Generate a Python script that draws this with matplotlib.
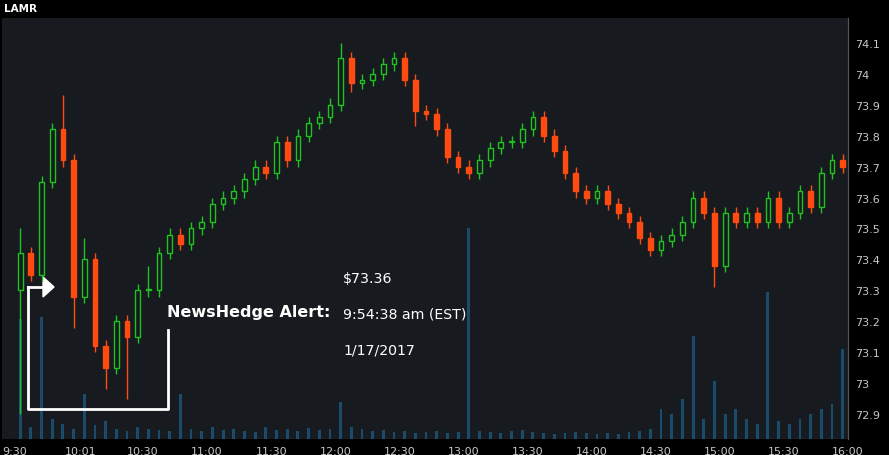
import matplotlib
matplotlib.use("Agg")
import matplotlib.pyplot as plt
import numpy as np

closes = [73.42,73.35,73.65,73.82,73.72,73.28,73.40,73.12,73.05,73.20,73.15,73.30,73.30,73.42,73.48,73.45,
          73.50,73.52,73.58,73.60,73.62,73.66,73.70,73.68,73.78,73.72,73.80,73.84,73.86,73.90,74.05,73.97,
          73.98,74.00,74.03,74.05,73.98,73.88,73.87,73.82,73.73,73.70,73.68,73.72,73.76,73.78,73.78,73.82,
          73.86,73.80,73.75,73.68,73.62,73.60,73.62,73.58,73.55,73.52,73.47,73.43,73.46,73.48,73.52,73.60,
          73.55,73.38,73.55,73.52,73.55,73.52,73.60,73.52,73.55,73.62,73.57,73.68,73.72,73.70]
first_open = 73.30
high_extra = {0: 73.50, 4: 73.93, 6: 73.47, 12: 73.38, 30: 74.10, 48: 73.88}
low_extra = {0: 72.90, 5: 73.18, 8: 72.98, 10: 72.95, 31: 73.94, 37: 73.83, 65: 73.31}
volume = [120,12,122,20,15,10,45,14,18,10,8,12,10,9,8,45,10,8,12,9,10,8,7,12,9,10,8,11,9,10,37,12,
          10,8,9,7,8,6,7,8,6,7,211,8,7,6,8,9,7,6,5,6,7,6,5,6,5,7,8,10,30,25,40,103,20,58,25,30,
          20,15,147,18,15,20,25,30,35,90]
tick_minutes = [0,31,60,90,120,150,180,210,240,270,300,330,360,390]
tick_labels = ["9:30","10:01","10:30","11:00","11:30","12:00","12:30","13:00","13:30","14:00","14:30","15:00","15:30","16:00"]
price_ticks = [72.9,73.0,73.1,73.2,73.3,73.4,73.5,73.6,73.7,73.8,73.9,74.0,74.1]

BG = "#171b1f"; GREEN = "#1fc21f"; RED = "#ff4a10"; VOL = "#1b4b6b"; TXT = "#c8c8c8"

fig = plt.figure(figsize=(8.89, 4.56), dpi=100, facecolor="black")
ax = fig.add_axes([2/889, 1-440/456, 846/889, 421/456])
vax = ax.twinx()
vax.set_ylim(0, 421)
vax.set_yticks([])
ax.set_zorder(vax.get_zorder()+1)
ax.patch.set_visible(False)
vax.patch.set_visible(True); vax.patch.set_facecolor(BG)

n = len(closes)
opens = [first_open] + closes[:-1]
for i in range(n):
    x = i*5 + 2.5
    o, c = opens[i], closes[i]
    h = high_extra.get(i, max(o, c) + 0.02)
    l = low_extra.get(i, min(o, c) - 0.02)
    col = GREEN if c >= o else RED
    ax.vlines(x, l, h, color=col, lw=1)
    if c >= o:
        ax.add_patch(plt.Rectangle((x-1.1, o), 2.2, max(c-o, 0.004), facecolor=BG, edgecolor=col, lw=1, zorder=3))
    else:
        ax.add_patch(plt.Rectangle((x-1.1, c), 2.2, o-c, facecolor=col, edgecolor=col, lw=1, zorder=3))
    vax.bar(x, volume[i], width=1.3, color=VOL)

ax.set_xlim(-6, 385)
vax.set_xlim(-6, 385)
ax.set_ylim(72.82, 74.18)
ax.yaxis.tick_right()
ax.set_yticks(price_ticks)
ax.set_yticklabels([f"{p:g}" for p in price_ticks])
ax.set_xticks(tick_minutes)
ax.set_xticklabels(tick_labels)
ax.tick_params(colors=TXT, labelsize=8, length=0, pad=5)
vax.tick_params(length=0)
for a in (ax, vax):
    for s in a.spines.values():
        s.set_visible(False)
    a.spines["right"].set_visible(True)
    a.spines["right"].set_color("#555555")

fig.text(4/889, 1-9/456, "LAMR", color="white", fontsize=7.5, fontweight="bold", va="center")

def px(xp, yp):
    return (xp/889, 1-yp/456)
W = "white"
fig.add_artist(plt.Line2D([28/889, 28/889, 168/889, 168/889], [1-288/456, 1-410/456, 1-410/456, 1-331/456],
                          color=W, lw=2, transform=fig.transFigure))
fig.add_artist(plt.Line2D([28/889, 44/889], [1-288/456, 1-288/456], color=W, lw=2, transform=fig.transFigure))
fig.add_artist(plt.Polygon([px(43, 278), px(54, 288), px(43, 298)], closed=True, color=W, transform=fig.transFigure))
fig.text(*px(167, 313), "NewsHedge Alert:", color=W, fontsize=11.5, fontweight="bold", va="center")
fig.text(*px(343, 279), "$73.36", color=W, fontsize=10.2, va="center")
fig.text(*px(343, 315), "9:54:38 am (EST)", color=W, fontsize=10.2, va="center")
fig.text(*px(343, 351), "1/17/2017", color=W, fontsize=10.2, va="center")

fig.savefig("out.png", dpi=100, facecolor="black")
